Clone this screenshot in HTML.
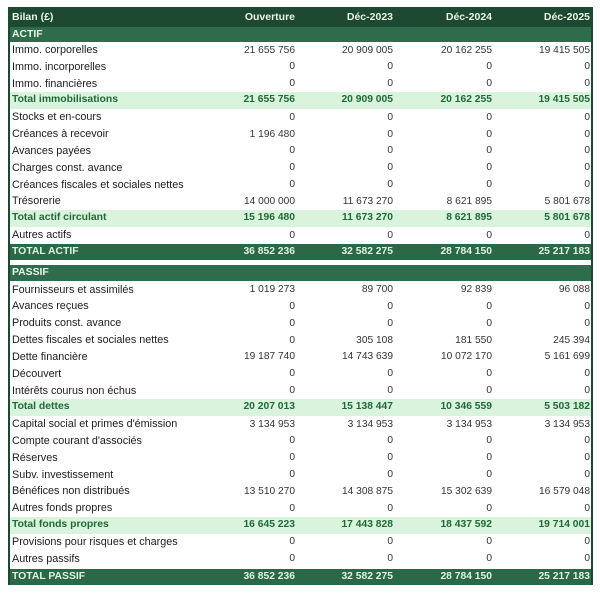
<!DOCTYPE html>
<html><head><meta charset="utf-8">
<style>
html,body{margin:0;padding:0;background:#fff;}
body{width:600px;height:594px;position:relative;overflow:hidden;font-family:"Liberation Sans",Arial,sans-serif;}
.r{position:absolute;left:8px;width:585px;height:16.83px;line-height:16.83px;font-size:10.8px;color:#1c1c1c;white-space:nowrap;}
.r span{position:absolute;top:0;}
.r .a{left:4px;}
.r .c1{right:298px;}
.r .c2{right:200px;}
.r .c3{right:101px;}
.r .c4{right:3px;}
.r .n{color:#333;font-size:10.2px;top:0.5px;}
.t{background:#d9f3dc;color:#1f6a36;font-weight:bold;}
.t .a{font-size:10.4px;}
.t .n{color:#1f6a36;font-size:10.3px;top:0;}
.T{background:#2b6848;color:#dff2df;font-weight:bold;}
.T .a{font-size:10.4px;}
.T .n{color:#dff2df;font-size:10.3px;top:0;}
.S{background:#2e6c4c;color:#eaf6ea;font-weight:bold;}
.S .a{font-size:10.4px;}
.H{background:#1d4831;color:#e8f5e2;font-weight:bold;font-size:10.5px;}
.b{position:absolute;width:2px;background:#1d4831;}
</style></head><body>

<div class="r H" style="top:7px;height:20px;line-height:20px;font-size:10.5px;"><span class="a">Bilan (£)</span><span class="c1">Ouverture</span><span class="c2">Déc-2023</span><span class="c3">Déc-2024</span><span class="c4">Déc-2025</span></div>
<div class="r S" style="top:27px;height:15px;line-height:15px;"><span class="a">ACTIF</span></div>

<div class="r" style="top:42px;"><span class="a">Immo. corporelles</span><span class="n c1">21 655 756</span><span class="n c2">20 909 005</span><span class="n c3">20 162 255</span><span class="n c4">19 415 505</span></div>
<div class="r" style="top:58.83px;"><span class="a">Immo. incorporelles</span><span class="n c1">0</span><span class="n c2">0</span><span class="n c3">0</span><span class="n c4">0</span></div>
<div class="r" style="top:75.66px;"><span class="a">Immo. financières</span><span class="n c1">0</span><span class="n c2">0</span><span class="n c3">0</span><span class="n c4">0</span></div>
<div class="r t" style="top:92.49px;"><span class="a">Total immobilisations</span><span class="n c1">21 655 756</span><span class="n c2">20 909 005</span><span class="n c3">20 162 255</span><span class="n c4">19 415 505</span></div>
<div class="r" style="top:109.32px;"><span class="a">Stocks et en-cours</span><span class="n c1">0</span><span class="n c2">0</span><span class="n c3">0</span><span class="n c4">0</span></div>
<div class="r" style="top:126.15px;"><span class="a">Créances à recevoir</span><span class="n c1">1 196 480</span><span class="n c2">0</span><span class="n c3">0</span><span class="n c4">0</span></div>
<div class="r" style="top:142.98px;"><span class="a">Avances payées</span><span class="n c1">0</span><span class="n c2">0</span><span class="n c3">0</span><span class="n c4">0</span></div>
<div class="r" style="top:159.81px;"><span class="a">Charges const. avance</span><span class="n c1">0</span><span class="n c2">0</span><span class="n c3">0</span><span class="n c4">0</span></div>
<div class="r" style="top:176.64px;"><span class="a">Créances fiscales et sociales nettes</span><span class="n c1">0</span><span class="n c2">0</span><span class="n c3">0</span><span class="n c4">0</span></div>
<div class="r" style="top:193.47px;"><span class="a">Trésorerie</span><span class="n c1">14 000 000</span><span class="n c2">11 673 270</span><span class="n c3">8 621 895</span><span class="n c4">5 801 678</span></div>
<div class="r t" style="top:210.3px;"><span class="a">Total actif circulant</span><span class="n c1">15 196 480</span><span class="n c2">11 673 270</span><span class="n c3">8 621 895</span><span class="n c4">5 801 678</span></div>
<div class="r" style="top:227.13px;"><span class="a">Autres actifs</span><span class="n c1">0</span><span class="n c2">0</span><span class="n c3">0</span><span class="n c4">0</span></div>
<div class="r T" style="top:244px;height:15.5px;line-height:15.5px;"><span class="a">TOTAL ACTIF</span><span class="n c1">36 852 236</span><span class="n c2">32 582 275</span><span class="n c3">28 784 150</span><span class="n c4">25 217 183</span></div>

<div class="r S" style="top:265px;height:15.5px;line-height:15.5px;"><span class="a">PASSIF</span></div>

<div class="r" style="top:281.6px;"><span class="a">Fournisseurs et assimilés</span><span class="n c1">1 019 273</span><span class="n c2">89 700</span><span class="n c3">92 839</span><span class="n c4">96 088</span></div>
<div class="r" style="top:298.42px;"><span class="a">Avances reçues</span><span class="n c1">0</span><span class="n c2">0</span><span class="n c3">0</span><span class="n c4">0</span></div>
<div class="r" style="top:315.24px;"><span class="a">Produits const. avance</span><span class="n c1">0</span><span class="n c2">0</span><span class="n c3">0</span><span class="n c4">0</span></div>
<div class="r" style="top:332.06px;"><span class="a">Dettes fiscales et sociales nettes</span><span class="n c1">0</span><span class="n c2">305 108</span><span class="n c3">181 550</span><span class="n c4">245 394</span></div>
<div class="r" style="top:348.88px;"><span class="a">Dette financière</span><span class="n c1">19 187 740</span><span class="n c2">14 743 639</span><span class="n c3">10 072 170</span><span class="n c4">5 161 699</span></div>
<div class="r" style="top:365.7px;"><span class="a">Découvert</span><span class="n c1">0</span><span class="n c2">0</span><span class="n c3">0</span><span class="n c4">0</span></div>
<div class="r" style="top:382.52px;"><span class="a">Intérêts courus non échus</span><span class="n c1">0</span><span class="n c2">0</span><span class="n c3">0</span><span class="n c4">0</span></div>
<div class="r t" style="top:399.34px;"><span class="a">Total dettes</span><span class="n c1">20 207 013</span><span class="n c2">15 138 447</span><span class="n c3">10 346 559</span><span class="n c4">5 503 182</span></div>
<div class="r" style="top:416.16px;"><span class="a">Capital social et primes d'émission</span><span class="n c1">3 134 953</span><span class="n c2">3 134 953</span><span class="n c3">3 134 953</span><span class="n c4">3 134 953</span></div>
<div class="r" style="top:432.98px;"><span class="a">Compte courant d'associés</span><span class="n c1">0</span><span class="n c2">0</span><span class="n c3">0</span><span class="n c4">0</span></div>
<div class="r" style="top:449.8px;"><span class="a">Réserves</span><span class="n c1">0</span><span class="n c2">0</span><span class="n c3">0</span><span class="n c4">0</span></div>
<div class="r" style="top:466.62px;"><span class="a">Subv. investissement</span><span class="n c1">0</span><span class="n c2">0</span><span class="n c3">0</span><span class="n c4">0</span></div>
<div class="r" style="top:483.44px;"><span class="a">Bénéfices non distribués</span><span class="n c1">13 510 270</span><span class="n c2">14 308 875</span><span class="n c3">15 302 639</span><span class="n c4">16 579 048</span></div>
<div class="r" style="top:500.26px;"><span class="a">Autres fonds propres</span><span class="n c1">0</span><span class="n c2">0</span><span class="n c3">0</span><span class="n c4">0</span></div>
<div class="r t" style="top:517.08px;"><span class="a">Total fonds propres</span><span class="n c1">16 645 223</span><span class="n c2">17 443 828</span><span class="n c3">18 437 592</span><span class="n c4">19 714 001</span></div>
<div class="r" style="top:533.9px;"><span class="a">Provisions pour risques et charges</span><span class="n c1">0</span><span class="n c2">0</span><span class="n c3">0</span><span class="n c4">0</span></div>
<div class="r" style="top:550.72px;"><span class="a">Autres passifs</span><span class="n c1">0</span><span class="n c2">0</span><span class="n c3">0</span><span class="n c4">0</span></div>
<div class="r T" style="top:568.5px;height:16.5px;line-height:16.5px;"><span class="a">TOTAL PASSIF</span><span class="n c1">36 852 236</span><span class="n c2">32 582 275</span><span class="n c3">28 784 150</span><span class="n c4">25 217 183</span></div>

<div class="b" style="left:8px;top:7px;height:578px;"></div>
<div class="b" style="left:591px;top:7px;height:578px;"></div>
</body></html>
